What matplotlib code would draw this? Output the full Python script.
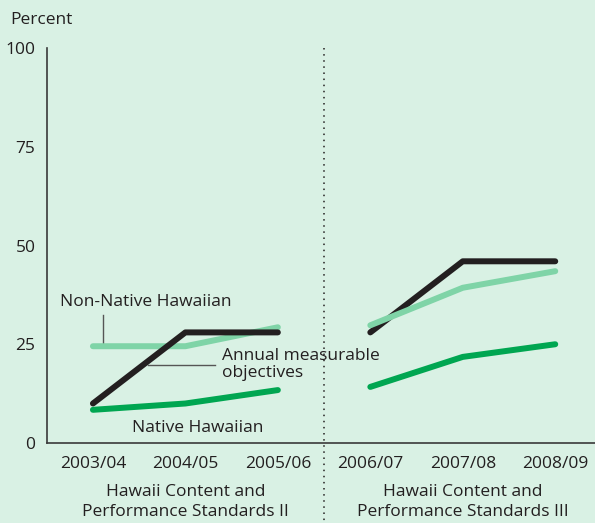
import matplotlib
matplotlib.use("Agg")
import matplotlib.pyplot as plt
import matplotlib.transforms as mtransforms

plt.rcParams['font.family'] = ['Open Sans', 'DejaVu Sans']

categories = ["2003/04", "2004/05", "2005/06", "2006/07", "2007/08", "2008/09"]
annual_objectives = [10, 28, 28, 28, 46, 46]
non_native = [24.5, 24.5, 29.3, 29.8, 39.3, 43.5]
native = [8.4, 10.0, 13.4, 14.2, 21.8, 25.0]
group_labels = ["Hawaii Content and\nPerformance Standards II",
                "Hawaii Content and\nPerformance Standards III"]
yticks = [0, 25, 50, 75, 100]

BG = "#d9f1e4"
TXT = "#231f20"
BLACK = "#231f20"
LIGHT = "#7fd4a7"
DARK = "#00a651"

fig = plt.figure(figsize=(5.95, 5.23), dpi=100, facecolor=BG)
ax = fig.add_axes([46.7/595, (523-443)/523, 1 - 46.7/595, (443-48)/523])
ax.set_facecolor(BG)

x = list(range(len(categories)))
lw = 4.3
for seg, zb in ((slice(0, 3), (3, 2)), (slice(3, 6), (2, 3))):
    xs = x[seg]
    ax.plot(xs, native[seg], color=DARK, lw=lw, solid_capstyle='round', zorder=2)
    ax.plot(xs, annual_objectives[seg], color=BLACK, lw=lw, solid_capstyle='round', zorder=zb[0])
    ax.plot(xs, non_native[seg], color=LIGHT, lw=lw, solid_capstyle='round', zorder=zb[1])

ax.set_xlim(-0.5, 5.43)
ax.set_ylim(0, 100)
ax.set_xticks(x)
ax.set_xticklabels(categories, fontsize=12.5, color=TXT)
ax.set_yticks(yticks)
ax.set_yticklabels([str(v) for v in yticks], fontsize=12.5, color=TXT)
ax.tick_params(axis='both', length=0)
ax.tick_params(axis='x', pad=9)
ax.tick_params(axis='y', pad=8)
for s in ('top', 'right'):
    ax.spines[s].set_visible(False)
for s in ('left', 'bottom'):
    ax.spines[s].set_color("#3a3a3a")
    ax.spines[s].set_linewidth(1.2)

# dotted divider extending below axis
ax.plot([2.5, 2.5], [100, -21], color=TXT, lw=1.1, ls=(0, (1, 3)), clip_on=False, zorder=1)

# annotations
ax.text(0.574, 35.6, "Non-Native Hawaiian", fontsize=12.5, color=TXT, ha='center', va='center')
ax.plot([0.105, 0.105], [32.4, 24.8], color="#555555", lw=1.0, zorder=1)
ax.text(1.393, 19.9, "Annual measurable\nobjectives", fontsize=12.5, color=TXT,
        ha='left', va='center', linespacing=1.1)
ax.plot([0.595, 1.32], [19.7, 19.7], color="#555555", lw=1.0, zorder=1)
ax.text(1.136, 3.9, "Native Hawaiian", fontsize=12.5, color=TXT, ha='center', va='center')

trans = mtransforms.blended_transform_factory(ax.transData, fig.transFigure)
for gx, lab in zip([1, 4], group_labels):
    ax.text(gx, 1 - 502/523, lab, transform=trans, fontsize=12.5, color=TXT,
            ha='center', va='center', linespacing=1.25)

fig.text(10/595, 1 - 20/523, "Percent", fontsize=12.5, color=TXT, ha='left', va='center')

fig.savefig("out.png", dpi=100, facecolor=BG)
